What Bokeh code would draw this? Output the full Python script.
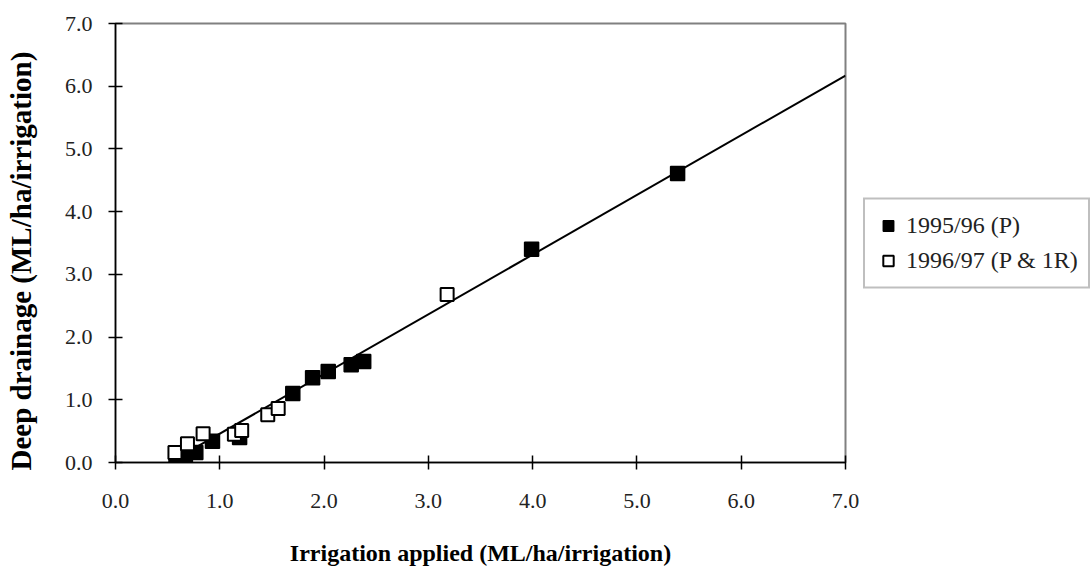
from bokeh.plotting import figure
from bokeh.models import Range1d, FixedTicker, PrintfTickFormatter, Legend, LegendItem
from bokeh.embed import file_html
from bokeh.resources import INLINE

# Data
x_9596 = [0.58, 0.67, 0.77, 0.93, 1.19, 1.70, 1.89, 2.04, 2.26, 2.38, 3.99, 5.39]
y_9596 = [0.07, 0.11, 0.16, 0.34, 0.40, 1.10, 1.35, 1.45, 1.56, 1.61, 3.40, 4.61]

x_9697 = [0.57, 0.69, 0.84, 1.14, 1.21, 1.46, 1.56, 3.18]
y_9697 = [0.16, 0.30, 0.46, 0.45, 0.51, 0.76, 0.86, 2.68]

# fitted trend line (end points)
trend_x = [0.56, 7.0]
trend_y = [0.04, 6.17]

ticks = [0, 1, 2, 3, 4, 5, 6, 7]

SERIF = "Liberation Serif"

p = figure(frame_width=730, frame_height=439, output_backend="svg", toolbar_location=None,
           x_range=Range1d(0, 7), y_range=Range1d(0, 7),
           min_border_left=115, min_border_right=0, min_border_top=23, min_border_bottom=108)

p.xgrid.visible = False
p.ygrid.visible = False
p.outline_line_color = "#808080"
p.outline_line_width = 2
p.background_fill_color = "white"
p.border_fill_color = "white"

for ax in (p.xaxis[0], p.yaxis[0]):
    ax.ticker = FixedTicker(ticks=ticks)
    ax.formatter = PrintfTickFormatter(format="%.1f")
    ax.axis_line_color = "black"
    ax.axis_line_width = 1.5
    ax.major_tick_line_color = "black"
    ax.major_tick_line_width = 1.5
    ax.major_tick_in = 7
    ax.major_tick_out = 7
    ax.minor_tick_line_color = None
    ax.major_label_text_font = SERIF
    ax.major_label_text_font_size = "22px"
    ax.major_label_text_color = "#222222"
    ax.axis_label_text_font = SERIF
    ax.axis_label_text_font_style = "bold"
    ax.axis_label_text_color = "black"

p.xaxis.axis_label = "Irrigation applied (ML/ha/irrigation)"
p.yaxis.axis_label = "Deep drainage (ML/ha/irrigation)" + "\u00a0" * 5
p.xaxis.axis_label_text_font_size = "24px"
p.yaxis.axis_label_text_font_size = "29px"
p.xaxis.major_label_standoff = 24
p.xaxis.axis_label_standoff = 29
p.yaxis.major_label_standoff = 16
p.yaxis.axis_label_standoff = 25

p.line(trend_x, trend_y, line_color="black", line_width=2)
r1 = p.scatter(x_9596, y_9596, marker="square", size=14, fill_color="black",
               line_color="black", line_width=1.5)
r2 = p.scatter(x_9697, y_9697, marker="square", size=13, fill_color="white",
               line_color="black", line_width=2)

legend = Legend(items=[LegendItem(label="1995/96 (P)", renderers=[r1]),
                       LegendItem(label="1996/97 (P & 1R)", renderers=[r2])],
                location="center_left")
legend.label_text_font = SERIF
legend.label_text_font_size = "24px"
legend.label_text_color = "#222222"
legend.border_line_color = "#808080"
legend.border_line_width = 2
legend.background_fill_color = "white"
legend.background_fill_alpha = 1
legend.glyph_width = 26
legend.glyph_height = 32
legend.label_standoff = 5
legend.label_height = 32
legend.spacing = 3
legend.padding = 10
legend.margin = 18
p.add_layout(legend, "right")

open("out.html", "w").write(file_html(p, INLINE))
